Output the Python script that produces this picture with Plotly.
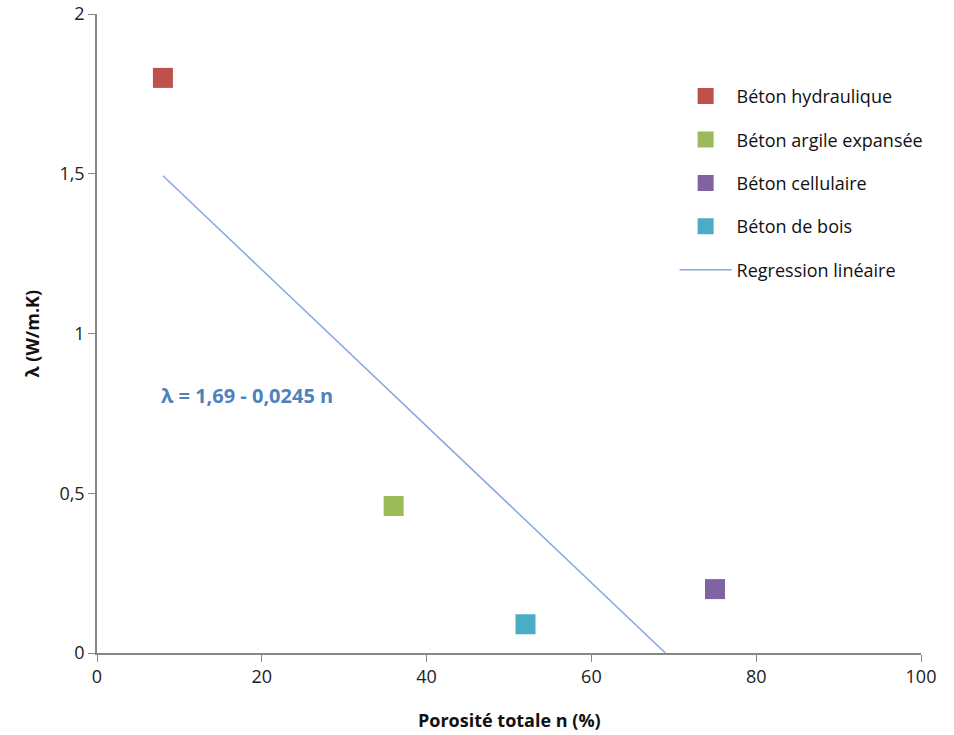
import plotly.graph_objects as go

series_names = ["Béton hydraulique", "Béton argile expansée", "Béton cellulaire", "Béton de bois"]
porosity = [8, 36, 75, 52]
conductivity = [1.8, 0.46, 0.2, 0.09]
colors = ["#C0504D", "#9BBB59", "#8064A2", "#4BACC6"]

reg_x = [8, 68.98]
reg_intercept = 1.69
reg_slope = -0.0245
reg_y = [reg_intercept + reg_slope * v for v in reg_x]

x_title = "Porosité totale n (%)"
y_title = "λ (W/m.K)"
equation = "λ = 1,69 - 0,0245 n"

font_family = "Open Sans, Liberation Sans, sans-serif"

fig = go.Figure()
for i, name in enumerate(series_names):
    fig.add_trace(go.Scatter(
        x=[porosity[i]], y=[conductivity[i]], mode="markers", name=name,
        marker=dict(symbol="square", size=20, color=colors[i]),
        legendgroup=name,
    ))
fig.add_trace(go.Scatter(
    x=reg_x, y=reg_y, mode="lines", name="Regression linéaire",
    line=dict(color="#86A8DC", width=1.5), legendgroup="reg",
))

fig.add_annotation(
    x=7.5, y=0.805, xref="x", yref="y", xanchor="left", yanchor="middle",
    text="<b>" + equation + "</b>", showarrow=False,
    font=dict(color="#4F81BD", size=20, family=font_family),
)
fig.add_annotation(
    x=0.5, y=-0.105, xref="paper", yref="paper", xanchor="center", yanchor="middle",
    text="<b>" + x_title + "</b>", showarrow=False,
    font=dict(size=18, color="#111111", family=font_family),
)
fig.add_annotation(
    x=-0.079, y=0.5, xref="paper", yref="paper", xanchor="center", yanchor="middle",
    text="<b>" + y_title + "</b>", showarrow=False, textangle=-90,
    font=dict(size=18, color="#111111", family=font_family),
)

fig.update_layout(
    width=954, height=735,
    margin=dict(l=97, r=33, t=14, b=82),
    plot_bgcolor="white", paper_bgcolor="white",
    separators=", ",
    font=dict(family=font_family, size=18, color="#222222"),
    showlegend=True,
    legend=dict(
        x=0.701, y=0.9, xanchor="left", yanchor="top",
        font=dict(size=18, color="#111111"),
        itemwidth=52,
        tracegroupgap=17, bgcolor="rgba(0,0,0,0)",
    ),
    xaxis=dict(
        range=[0, 100], dtick=20, showgrid=False, zeroline=False,
        showline=True, linecolor="#868686", linewidth=1.5,
        ticks="outside", ticklen=7, tickcolor="#868686",
        tickfont=dict(size=18), automargin=False,
    ),
    yaxis=dict(
        range=[0, 2], dtick=0.5, showgrid=False, zeroline=False,
        showline=True, linecolor="#868686", linewidth=1.5,
        ticks="outside", ticklen=7, tickcolor="#868686",
        tickfont=dict(size=18), automargin=False,
    ),
)

fig.write_html("out.html", config={"displayModeBar": False},
               post_script="document.body.style.margin='0';")
